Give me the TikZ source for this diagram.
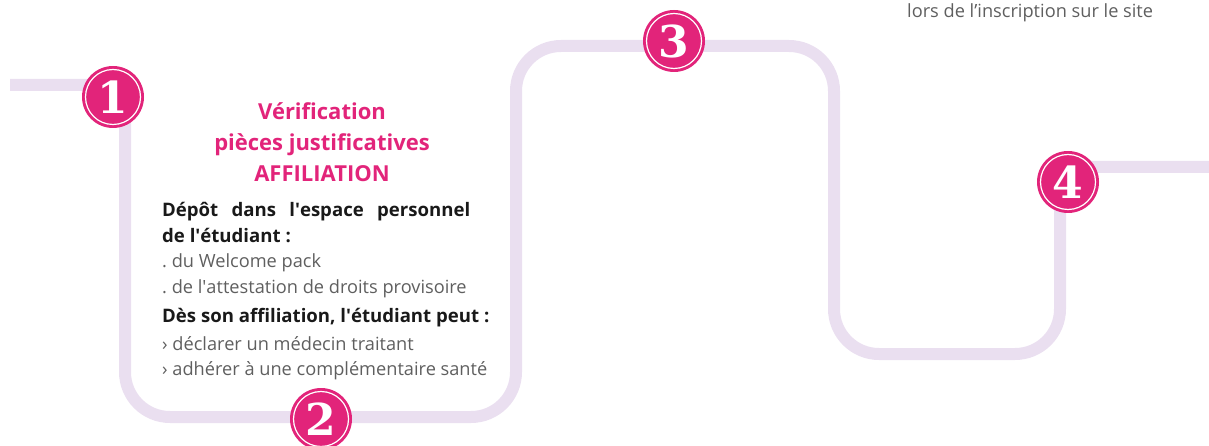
\documentclass[tikz,border=0pt]{standalone}
\usepackage{fontspec}
\setmainfont{Open Sans}
\newfontfamily\numfont{DejaVu Serif}
\frenchspacing
\definecolor{trackLilac}{RGB}{234,223,240}
\definecolor{stepPink}{RGB}{226,36,122}
\definecolor{bodyGrey}{RGB}{95,95,95}
\tikzset{
  track/.style = {draw = trackLilac, line width = 12pt},
  stepnum/.style = {circle, fill = stepPink, minimum size = 62pt, inner sep = 0pt, text = white, font = \numfont\bfseries\fontsize{44}{44}\selectfont, path picture = {\draw [white, line width = 1.2pt] (path picture bounding box.center) circle (27.5pt);}},
  steptitle/.style = {anchor = base, align = center, text = stepPink, font = \bfseries\fontsize{22}{31}\selectfont, inner sep = 0pt},
  leadline/.style = {anchor = base west, text = black!90, font = \bfseries\fontsize{18.6}{18.6}\selectfont, inner sep = 0pt},
  itemline/.style = {anchor = base west, text = bodyGrey, font = \fontsize{18.2}{18.2}\selectfont, inner sep = 0pt}
}
\begin{document}
\begin{tikzpicture}[x = 1pt, y = -1pt]
\useasboundingbox (0,0) rectangle (1209,446);
\draw [track] (10,85) -- (125,85) -- (125,300) [rounded corners = 45] -- (125,417) -- (516,417) -- (516,46) -- (834,46) -- (834,354) -- (1060,354) -- (1060,250) [sharp corners] -- (1060,167) -- (1209,167);
\foreach \n/\x/\y in {1/113/97, 2/321/419, 3/674/41, 4/1068/182} \node [stepnum] (step\n) at (\x,\y) {\n};
\node [steptitle] (title) at (322,182) {Vérification\\pièces justificatives\\AFFILIATION};
\node [leadline] (depot) at (162,217) {\makebox[308pt][s]{Dépôt dans l\textquotesingle espace personnel}};
\node [leadline] (etud) at (162,243) {de l\textquotesingle étudiant :};
\node [itemline] (welcome) at (162,268) {. du Welcome pack};
\node [itemline] (attest) at (162,293) {. de l\textquotesingle attestation de droits provisoire};
\node [leadline] (affil) at (162,322) {Dès son affiliation, l\textquotesingle étudiant peut :};
\node [itemline] (medecin) at (162,350) {› déclarer un médecin traitant};
\node [itemline] (mutuelle) at (162,375) {› adhérer à une complémentaire santé};
\node [itemline] (inscr) at (907,18) {lors de l’inscription sur le site};
\end{tikzpicture}
\end{document}
